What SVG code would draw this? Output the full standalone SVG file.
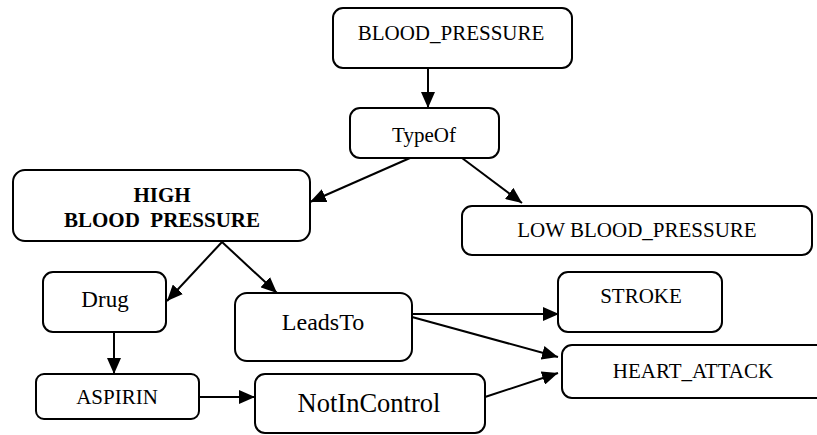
<svg xmlns="http://www.w3.org/2000/svg" width="817" height="435" viewBox="0 0 817 435">
  <defs>
    <style>
      .box { fill: #ffffff; stroke: #000000; stroke-width: 2; }
      .edge { stroke: #000000; stroke-width: 2; fill: none; }
      .lbl { font-family: "Liberation Serif", "Times New Roman", serif; font-size: 21px; fill: #000000; text-anchor: middle; }
    </style>
    <marker id="arrow" markerUnits="userSpaceOnUse" markerWidth="17" markerHeight="14" refX="16" refY="7" orient="auto">
      <path d="M0,0 L16,7 L0,14 z" fill="#000000"/>
    </marker>
  </defs>

  <rect width="817" height="435" fill="#ffffff"/>

  <g id="connectors">
    <line class="edge" marker-end="url(#arrow)" x1="428" y1="68" x2="428" y2="108"/>
    <line class="edge" marker-end="url(#arrow)" x1="410" y1="158" x2="310" y2="202"/>
    <line class="edge" marker-end="url(#arrow)" x1="462" y1="158" x2="522" y2="203"/>
    <line class="edge" marker-end="url(#arrow)" x1="222" y1="242" x2="167" y2="301"/>
    <line class="edge" marker-end="url(#arrow)" x1="222" y1="242" x2="277" y2="293"/>
    <line class="edge" marker-end="url(#arrow)" x1="114" y1="332" x2="114" y2="374"/>
    <line class="edge" marker-end="url(#arrow)" x1="199" y1="397" x2="255" y2="397"/>
    <line class="edge" marker-end="url(#arrow)" x1="412" y1="314" x2="559" y2="314"/>
    <line class="edge" marker-end="url(#arrow)" x1="412" y1="317" x2="558" y2="357"/>
    <line class="edge" marker-end="url(#arrow)" x1="485" y1="397" x2="558" y2="373"/>
  </g>

  <g id="blood_pressure">
    <rect class="box" x="333" y="8" width="239" height="60" rx="10"/>
    <text class="lbl" x="451" y="40">BLOOD_PRESSURE</text>
  </g>

  <g id="type_of">
    <rect class="box" x="350" y="108" width="149" height="50" rx="10"/>
    <text class="lbl" x="424" y="142">TypeOf</text>
  </g>

  <g id="high_blood_pressure">
    <rect class="box" x="13" y="170" width="297" height="71" rx="12"/>
    <text class="lbl" x="162" y="202" font-weight="bold">HIGH</text>
    <text class="lbl" x="162" y="227" font-weight="bold">BLOOD&#160; PRESSURE</text>
  </g>

  <g id="low_blood_pressure">
    <rect class="box" x="462" y="206" width="350" height="49" rx="10"/>
    <text class="lbl" x="637" y="237">LOW BLOOD_PRESSURE</text>
  </g>

  <g id="drug">
    <rect class="box" x="43" y="272" width="123" height="60" rx="10"/>
    <text class="lbl" x="105" y="307" style="font-size: 23px">Drug</text>
  </g>

  <g id="leads_to">
    <rect class="box" x="235" y="293" width="177" height="68" rx="12"/>
    <text class="lbl" x="323" y="330" style="font-size: 24px">LeadsTo</text>
  </g>

  <g id="stroke">
    <rect class="box" x="558" y="272" width="164" height="60" rx="10"/>
    <text class="lbl" x="641" y="303">STROKE</text>
  </g>

  <g id="aspirin">
    <rect class="box" x="36" y="374" width="163" height="45" rx="8"/>
    <text class="lbl" x="117" y="404">ASPIRIN</text>
  </g>

  <g id="not_in_control">
    <rect class="box" x="255" y="374" width="230" height="59" rx="10"/>
    <text class="lbl" x="369" y="412" style="font-size: 26.5px">NotInControl</text>
  </g>

  <g id="heart_attack">
    <rect class="box" x="562" y="345" width="270" height="53" rx="10"/>
    <text class="lbl" x="693" y="378">HEART_ATTACK</text>
  </g>
</svg>
